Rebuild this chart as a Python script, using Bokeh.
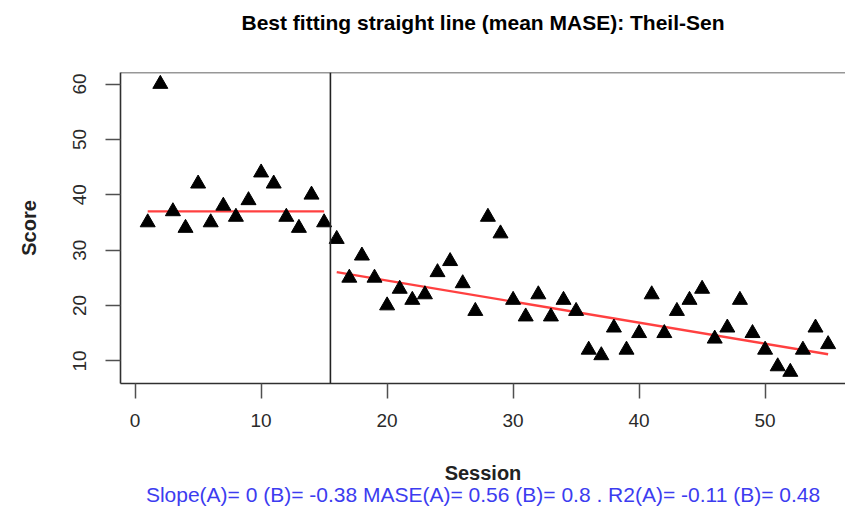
from bokeh.plotting import figure
from bokeh.models import Range1d, Span, Title, FixedTicker, ColumnDataSource
from bokeh.embed import file_html
from bokeh.resources import INLINE

# Sessions and scores for the two phases
sessions_a = list(range(1, 16))
scores_a = [35, 60, 37, 34, 42, 35, 38, 36, 39, 44, 42, 36, 34, 40, 35]
sessions_b = list(range(16, 56))
scores_b = [32, 25, 29, 25, 20, 23, 21, 22, 26, 28,
            24, 19, 36, 33, 21, 18, 22, 18, 21, 19,
            12, 11, 16, 12, 15, 22, 15, 19, 21, 23,
            14, 16, 21, 15, 12, 9, 8, 12, 16, 13]

# Theil-Sen fits (slope, intercept at session 0)
slope_a, intercept_a = 0.0, 37.0
slope_b, intercept_b = -0.38, 32.1
phase_change = 15.5

# Fit statistics shown under the chart
mase_a, mase_b = 0.56, 0.8
r2_a, r2_b = -0.11, 0.48

x_ticks = [0, 10, 20, 30, 40, 50]
y_ticks = [10, 20, 30, 40, 50, 60]

FONT = "Liberation Sans"

p = figure(width=845, height=513, output_backend="svg", toolbar_location=None,
           title=None,
           x_range=Range1d(-1.16, 56.38), y_range=Range1d(5.92, 62.08),
           min_border_left=120, min_border_right=0, min_border_top=72,
           min_border_bottom=130)
p.background_fill_color = "white"
p.border_fill_color = "white"
p.outline_line_color = None
p.xgrid.visible = False
p.ygrid.visible = False

# empty band between the main title and the plot box
p.add_layout(Title(text=" ", text_font=FONT, text_font_size="10px", standoff=14),
             "above")
p.add_layout(Title(text="Best fitting straight line (mean MASE): Theil-Sen",
                   text_font=FONT, text_font_size="21px", text_font_style="bold",
                   text_color="black", align="center", vertical_align="top",
                   standoff=20), "above")

for ax in (p.xaxis[0], p.yaxis[0]):
    ax.axis_line_color = "#303030"
    ax.axis_line_width = 1.6
    ax.major_tick_line_color = "#505050"
    ax.major_tick_line_width = 1.5
    ax.major_tick_out = 15
    ax.major_tick_in = 0
    ax.minor_tick_line_color = None
    ax.major_label_text_font = FONT
    ax.major_label_text_font_size = "19px"
    ax.major_label_text_color = "#2a2a2a"
    ax.axis_label_text_font = FONT
    ax.axis_label_text_font_size = "20px"
    ax.axis_label_text_font_style = "bold"
    ax.axis_label_text_color = "#222222"

p.xaxis.ticker = FixedTicker(ticks=x_ticks)
p.yaxis.ticker = FixedTicker(ticks=y_ticks)
p.xaxis.major_label_standoff = 15
p.yaxis.major_label_standoff = 19
p.yaxis.major_label_orientation = "vertical"
p.xaxis.axis_label = "Session"
p.xaxis.axis_label_standoff = 32
p.yaxis.axis_label = "Score"
p.yaxis.axis_label_standoff = 31

# top edge of the plot box
p.add_layout(Span(location=62.08, dimension="width", line_color="#303030",
                  line_width=1.6))
# phase change line
p.add_layout(Span(location=phase_change, dimension="height", line_color="#222222",
                  line_width=1.6))

# fitted lines for each phase
fit_a_x = [sessions_a[0], sessions_a[-1]]
fit_a_y = [intercept_a + slope_a * s for s in fit_a_x]
fit_b_x = [sessions_b[0], sessions_b[-1]]
fit_b_y = [intercept_b + slope_b * s for s in fit_b_x]
p.line(fit_a_x, fit_a_y, line_color="red", line_width=2.4, line_alpha=0.75)
p.line(fit_b_x, fit_b_y, line_color="red", line_width=2.4, line_alpha=0.75)

src = ColumnDataSource(data=dict(x=sessions_a + sessions_b, y=scores_a + scores_b))
p.scatter("x", "y", source=src, marker="triangle", size=15,
          fill_color="black", line_color="black")

# fit statistics line below the axis title
stats = (f"Slope(A)= {slope_a:g} (B)= {slope_b:g} MASE(A)= {mase_a:g} (B)= {mase_b:g} . "
         f"R2(A)= {r2_a:g} (B)= {r2_b:g}")
p.add_layout(Title(text=stats, text_font=FONT, text_font_size="21px",
                   text_font_style="normal", text_color="#3c3cf0",
                   align="center", standoff=-12), "below")

open("out.html", "w").write(file_html(p, INLINE))
